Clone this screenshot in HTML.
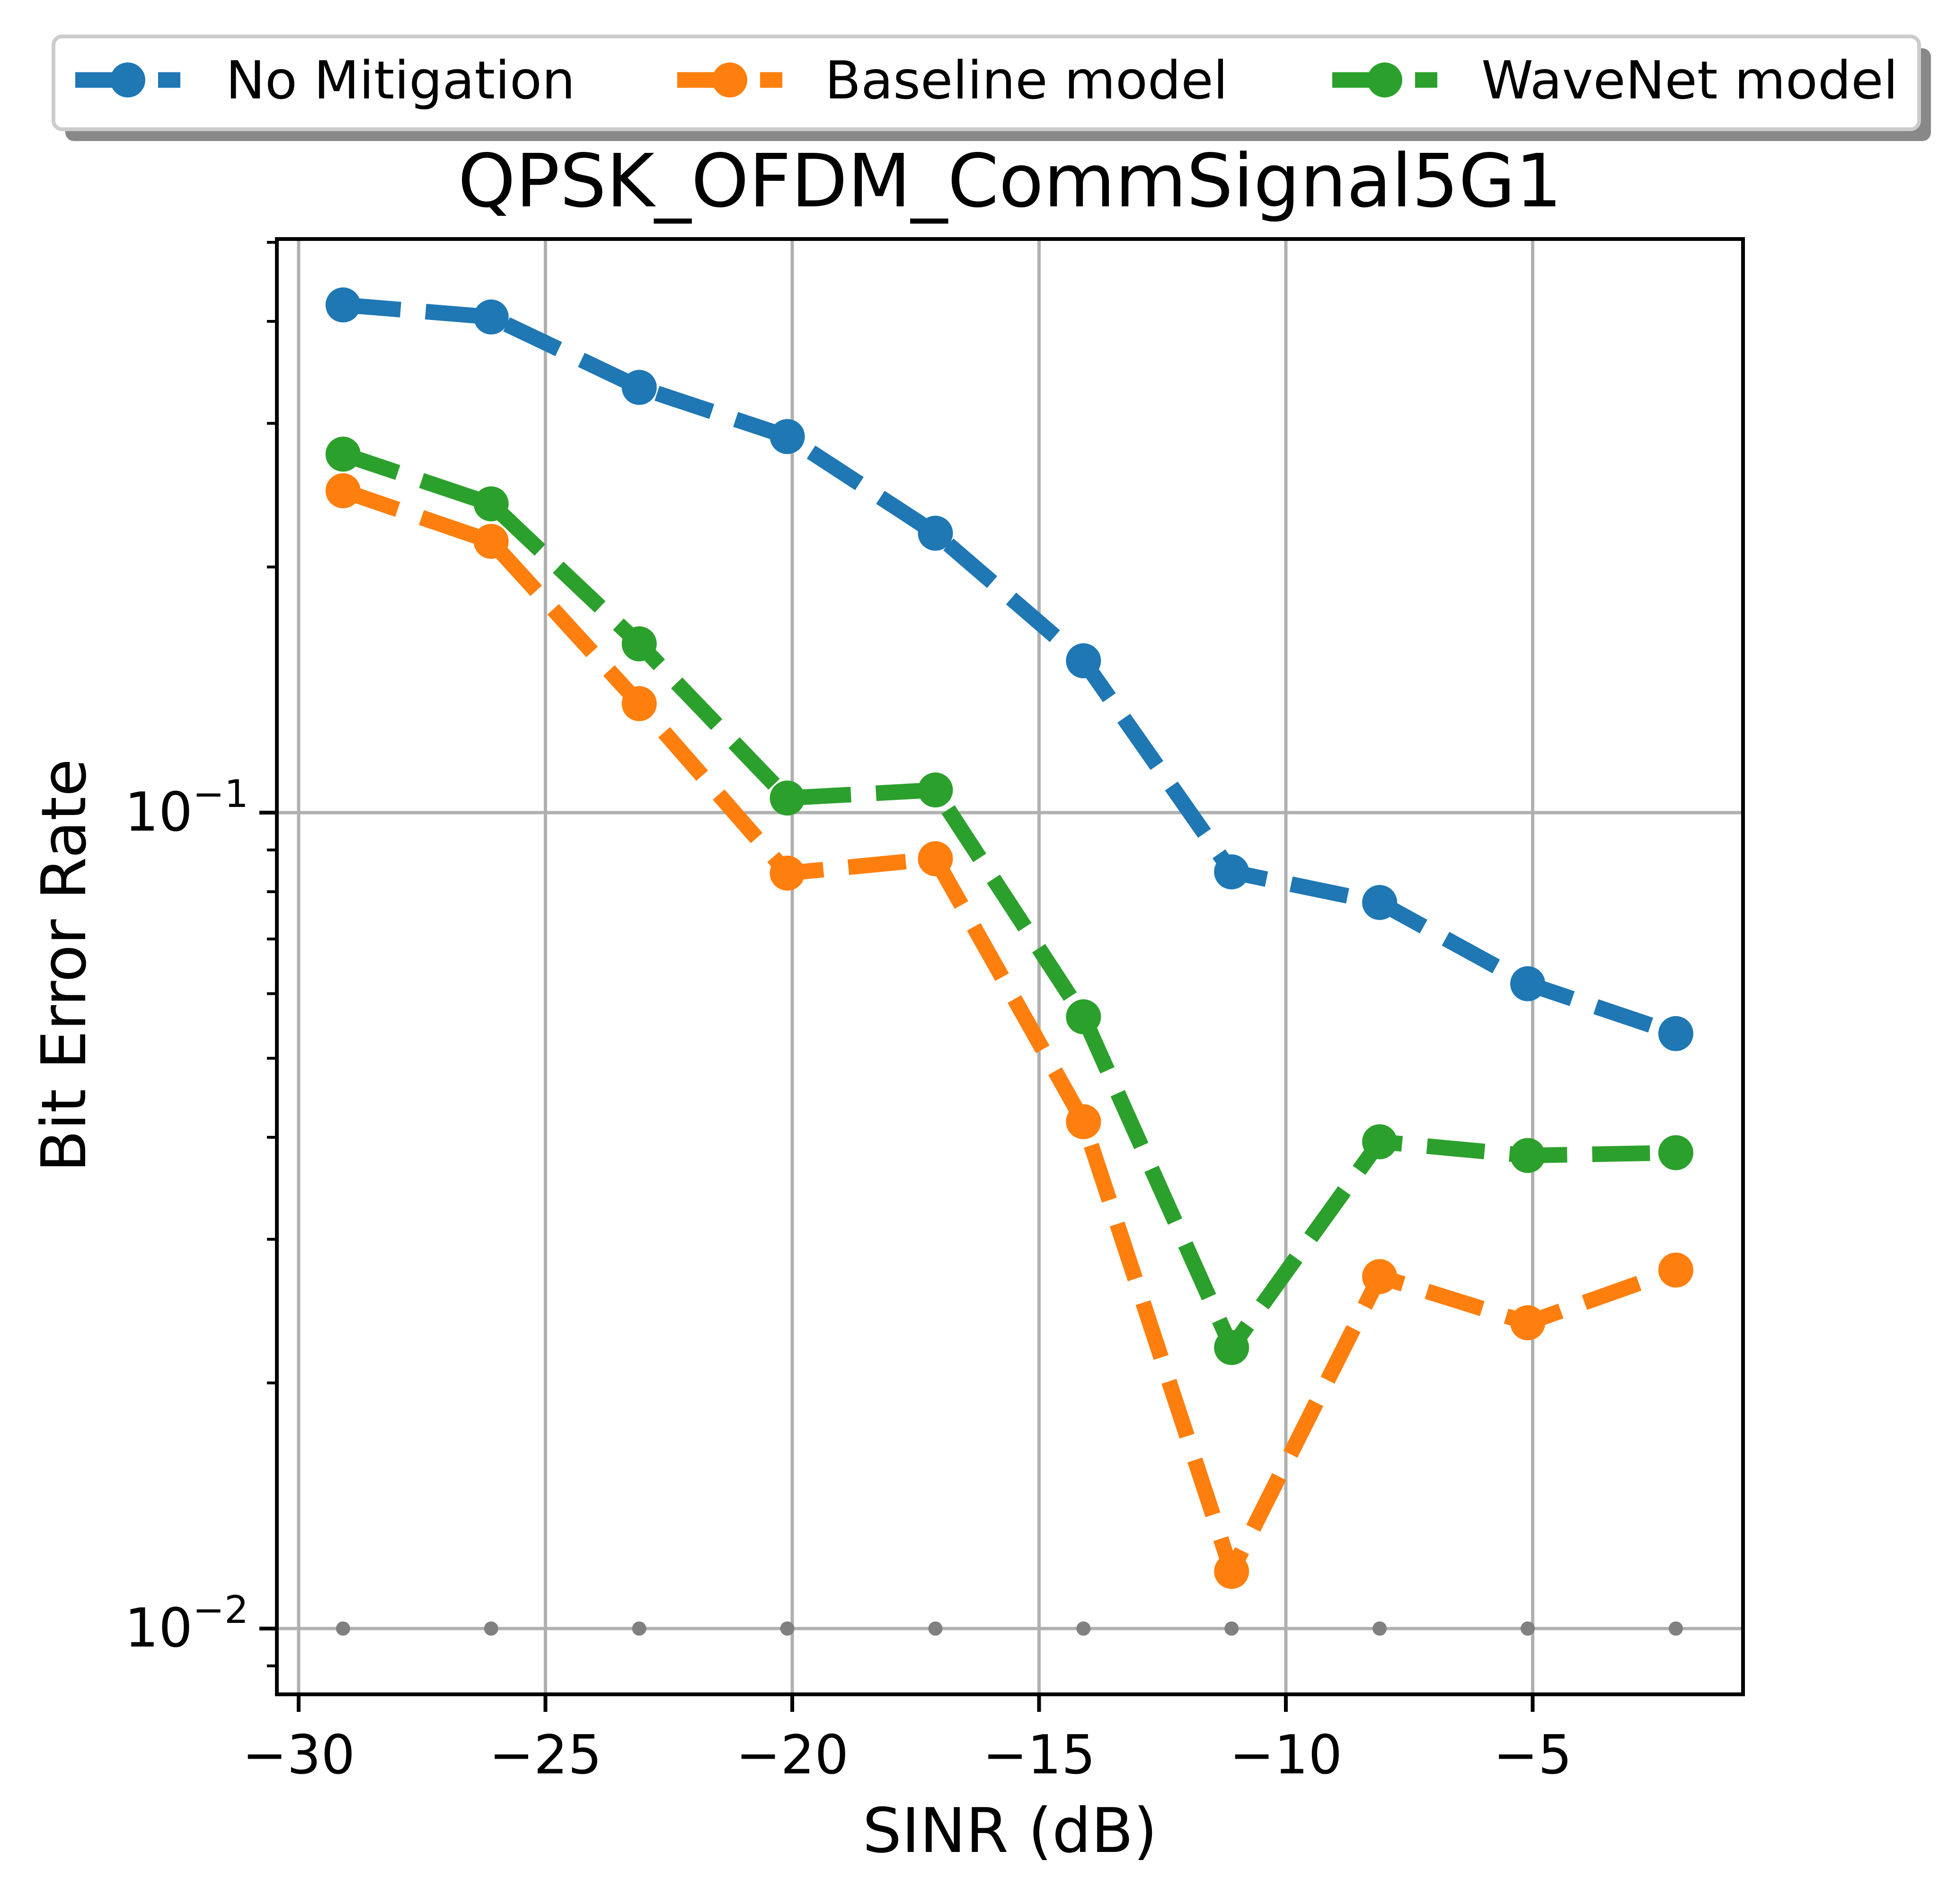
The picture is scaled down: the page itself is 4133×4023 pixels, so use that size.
<!DOCTYPE html>
<html><head><meta charset="utf-8"><style>
html,body{margin:0;padding:0;background:#fff;}
svg{display:block;font-family:"DejaVu Sans","Liberation Sans",sans-serif;}
</style></head><body>
<svg id="chart" width="4133" height="4023" viewBox="0 0 4133 4023" xmlns="http://www.w3.org/2000/svg">
<rect width="4133" height="4023" fill="#fff"/>
<g id="grid"></g>
<g id="marks"></g>
<rect x="585" y="505" width="3098" height="3075" fill="none" stroke="#000" stroke-width="8"/>
<g id="axes"></g>
<text x="2134" y="436" font-size="155" text-anchor="middle">QPSK_OFDM_CommSignal5G1</text>
<text x="2134" y="3913" font-size="130" text-anchor="middle">SINR (dB)</text>
<text x="0" y="0" font-size="130" text-anchor="middle" transform="translate(180,2040) rotate(-90)">Bit Error Rate</text>
<g id="legend">
<rect x="138" y="102" width="3942" height="196" rx="18" fill="#888"/>
<rect x="113" y="77" width="3942" height="196" rx="18" fill="#fff" stroke="#ccc" stroke-width="8"/>
</g>
</svg>
<script>
const xs = [-29.1,-26.1,-23.1,-20.1,-17.1,-14.1,-11.1,-8.1,-5.1,-2.1];
const noMitigation = [0.419,0.405,0.332,0.289,0.220,0.1535,0.0846,0.0776,0.0617,0.0536];
const baseline = [0.248,0.215,0.136,0.0843,0.0878,0.0418,0.01175,0.0270,0.0237,0.0275];
const wavenet = [0.275,0.239,0.161,0.1042,0.1066,0.0562,0.0221,0.0395,0.0380,0.0383];
const reference = [0.01,0.01,0.01,0.01,0.01,0.01,0.01,0.01,0.01,0.01];
const xTicks = [-30,-25,-20,-15,-10,-5];
const yTicks = [-2,-1];
const seriesNames = ["No Mitigation","Baseline model","WaveNet model"];

const NS="http://www.w3.org/2000/svg";
const X = v => 631 + (v + 30) * 104.3;
const Y = v => 1717 - (Math.log10(v) + 1) * 1724;
function mk(tag, attrs, parent){const e=document.createElementNS(NS,tag);for(const k in attrs)e.setAttribute(k,attrs[k]);parent.appendChild(e);return e;}
const grid=document.getElementById('grid'), marks=document.getElementById('marks'), axes=document.getElementById('axes'), legend=document.getElementById('legend');
const L=585,R=3683,T=505,B=3580;
xTicks.forEach(t=>{
  const g=mk('line',{x1:X(t),x2:X(t),y1:T,y2:B,stroke:'#b0b0b0','stroke-width':7},grid);
  
  
  const tk=mk('line',{x1:X(t),x2:X(t),y1:B,y2:B+37,stroke:'#000','stroke-width':8},axes);
  
  
  const lb=mk('text',{x:X(t),y:3747,'font-size':113,'text-anchor':'middle'},axes);
  lb.textContent=(t<0?'\u2212':'')+Math.abs(t);
  
  
});
yTicks.forEach(p=>{
  const y=Y(Math.pow(10,p));
  const g=mk('line',{x1:L,x2:R,y1:y,y2:y,stroke:'#b0b0b0','stroke-width':7},grid);
  
  
  const tk=mk('line',{x1:L-37,x2:L,y1:y,y2:y,stroke:'#000','stroke-width':8},axes);
  
  
  const lb=mk('text',{x:L-60,y:y+38,'font-size':113,'text-anchor':'end'},axes);
  
  
  const b=mk('tspan',{},lb); b.textContent='10';
  const s=mk('tspan',{dy:-50,'font-size':80},lb); s.textContent='\u2212'+Math.abs(p);
});
[-3,-2,-1].forEach(p=>{for(let m=2;m<=9;m++){const v=m*Math.pow(10,p);const y=Y(v);if(y<T||y>B)continue;
  const tk=mk('line',{x1:L-21,x2:L,y1:y,y2:y,stroke:'#000','stroke-width':6},axes);
  
  }});

const ref=xs.map((x,i)=>[X(x),Y(reference[i])]);
ref.forEach(p=>{const c=mk('circle',{cx:p[0],cy:p[1],r:15,fill:'#808080'},marks);
  
  });

const series=[[noMitigation,'#1f77b4','no-mitigation'],[baseline,'#ff7f0e','baseline-model'],[wavenet,'#2ca02c','wavenet-model']];
series.forEach(([vals,col,name])=>{
  const pts=xs.map((x,i)=>X(x)+','+Y(vals[i])).join(' ');
  const pl=mk('polyline',{points:pts,fill:'none',stroke:col,'stroke-width':33,'stroke-dasharray':'122 53','stroke-linejoin':'round'},marks);
  
  
  xs.forEach((x,i)=>{const c=mk('circle',{cx:X(x),cy:Y(vals[i]),r:37,fill:col},marks);
    
    });
});

const lx=[159,1431,2815], tx=[477,1743,3130];
series.forEach(([v,col,name],i)=>{
  const g=mk('g',{},legend);
  
  
  mk('line',{x1:lx[i],x2:lx[i]+222,y1:169,y2:169,stroke:col,'stroke-width':33,'stroke-dasharray':'122 53'},g);
  mk('circle',{cx:lx[i]+111,cy:169,r:37,fill:col},g);
  const t=mk('text',{x:tx[i],y:208,'font-size':111},g);
  t.textContent=seriesNames[i];
});
</script>
</body></html>
